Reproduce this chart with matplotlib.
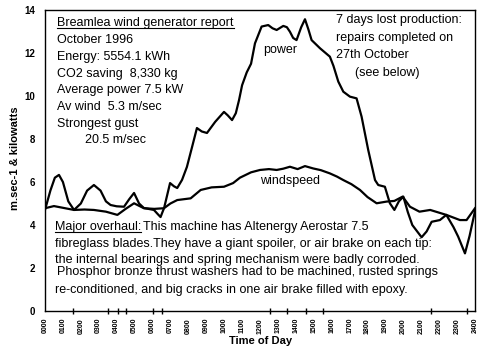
import matplotlib
matplotlib.use("Agg")
import matplotlib.pyplot as plt
from matplotlib.lines import Line2D

# ---------------- data ----------------
power_hours = [0.0, 0.3, 0.55, 0.78, 1.0, 1.3, 1.62, 2.0, 2.35, 2.73, 3.1, 3.4, 3.66, 4.0,
               4.41, 4.7, 4.97, 5.25, 5.52, 6.08, 6.3, 6.45, 6.65, 6.98, 7.2, 7.38, 7.65,
               7.92, 8.2, 8.48, 8.75, 9.04, 9.5, 9.99, 10.2, 10.44, 10.65, 10.83, 11.0,
               11.26, 11.5, 11.72, 12.09, 12.46, 12.7, 12.93, 13.3, 13.5, 13.67, 13.85,
               14.04, 14.3, 14.51, 14.7, 14.88, 15.35, 15.9, 16.1, 16.37, 16.65, 17.02,
               17.39, 17.67, 18.04, 18.42, 18.6, 18.97, 19.25, 19.5, 19.75, 20.0, 20.25,
               20.5, 21.02, 21.3, 21.58, 22.04, 22.4, 22.8, 23.06, 23.44, 23.7, 24.0]
power_kw = [4.70, 5.6, 6.2, 6.33, 6.0, 5.1, 4.70, 5.0, 5.6, 5.86, 5.6, 5.1, 4.93, 4.87,
            4.85, 5.2, 5.49, 5.0, 4.79, 4.70, 4.5, 4.37, 4.8, 5.95, 5.8, 5.72, 6.1,
            6.70, 7.6, 8.51, 8.35, 8.28, 8.8, 9.26, 9.1, 8.88, 9.2, 9.81, 10.5,
            11.1, 11.5, 12.45, 13.23, 13.30, 13.15, 13.07, 13.26, 13.2, 12.99, 12.7,
            12.60, 13.2, 13.57, 13.1, 12.60, 12.22, 11.83, 11.4, 10.67, 10.20, 9.97,
            9.89, 9.04, 7.49, 6.09, 5.86, 5.78, 5.01, 4.70, 5.1, 5.32, 4.6,
            4.0, 3.43, 3.7, 4.15, 4.23, 4.47, 3.9, 3.46, 2.68, 3.5, 4.65]

wind_hours = [0.0, 0.5, 1.0, 1.62, 2.2, 2.73, 3.4, 4.04, 4.5, 4.97, 5.52, 6.1, 6.64, 7.0,
              7.38, 8.13, 8.69, 9.3, 9.99, 10.5, 10.88, 11.5, 12.0, 12.5, 12.93, 13.3,
              13.67, 14.1, 14.51, 14.97, 15.4, 15.9, 16.3, 16.65, 17.1, 17.58, 18.0,
              18.51, 19.07, 19.5, 19.96, 20.37, 20.9, 21.5, 22.4, 23.16, 23.53, 24.0]
wind_ms = [4.78, 4.88, 4.80, 4.70, 4.72, 4.70, 4.62, 4.47, 4.75, 5.01, 4.78, 4.75, 4.78, 5.0,
           5.16, 5.24, 5.63, 5.75, 5.78, 5.95, 6.2, 6.45, 6.56, 6.6, 6.56, 6.62,
           6.71, 6.6, 6.74, 6.63, 6.55, 6.40, 6.25, 6.09, 5.9, 5.63, 5.3,
           5.01, 5.09, 5.12, 5.32, 4.85, 4.62, 4.70, 4.47, 4.23, 4.23, 4.78]

hour_ticks = list(range(25))
hour_labels = ["%02d00" % h for h in hour_ticks]
y_ticks = [0, 2, 4, 6, 8, 10, 12, 14]
x_marks = [1.56, 3.52, 4.07, 4.52, 6.03, 6.53, 12.56, 13.0, 13.5, 14.57, 15.0, 15.5,
           21.54, 23.55, 24.0]
y_marks = [2, 8]

report_lines = ["October 1996", "Energy: 5554.1 kWh", "CO2 saving  8,330 kg",
                "Average power 7.5 kW", "Av wind  5.3 m/sec", "Strongest gust"]
lost_lines = ["7 days lost production:", "repairs completed on", "27th October"]

# ---------------- figure ----------------
W, H = 491, 362
fig = plt.figure(figsize=(W / 100, H / 100), dpi=100)
fig.patch.set_facecolor("white")
FONT = "Liberation Sans"

def fx(x):
    return x / W

def fy(y):
    return 1 - y / H

ax = fig.add_axes([fx(45), fy(311), (475 - 45) / W, (311 - 10) / H])
ax.plot(power_hours, power_kw, color="black", lw=1.6, solid_joinstyle="round")
ax.plot(wind_hours, wind_ms, color="black", lw=1.6, solid_joinstyle="round")
ax.set_xlim(0, 24)
ax.set_ylim(0, 14)
for s in ax.spines.values():
    s.set_linewidth(1.0)
    s.set_color("black")

ax.set_xticks(hour_ticks)
ax.set_xticklabels(hour_labels, rotation=90, fontsize=5, fontweight="bold", family=FONT)
ax.set_yticks(y_ticks)
ax.set_yticklabels([str(v) for v in y_ticks], fontsize=7, fontweight="bold", family=FONT)
ax.tick_params(axis="x", which="major", length=0, pad=5)
ax.tick_params(axis="y", which="major", length=0, pad=7)
ax.set_xticks(x_marks, minor=True)
ax.set_yticks(y_marks, minor=True)
ax.tick_params(axis="x", which="minor", direction="inout", length=4, width=1)
ax.tick_params(axis="y", which="minor", direction="inout", length=7, width=1)

fig.text(fx(261), fy(341), "Time of Day", ha="center", va="center",
         fontsize=8, fontweight="bold", family=FONT)
fig.text(fx(15), fy(158), "m.sec-1 & kilowatts", ha="center", va="center",
         rotation=90, fontsize=8, fontweight="bold", family=FONT)

TS = 9
title = fig.text(fx(57), fy(23), "Breamlea wind generator report", ha="left",
                 va="center", fontsize=TS, family=FONT)
for i, line in enumerate(report_lines):
    fig.text(fx(57), fy(40 + i * 16.8), line, ha="left", va="center", fontsize=TS, family=FONT)
fig.text(fx(85), fy(140), "20.5 m/sec", ha="left", va="center", fontsize=TS, family=FONT)

for i, line in enumerate(lost_lines):
    fig.text(fx(336), fy(20 + i * 17.5), line, ha="left", va="center", fontsize=TS, family=FONT)
fig.text(fx(355), fy(73), "(see below)", ha="left", va="center", fontsize=TS, family=FONT)

fig.text(fx(280), fy(50), "power", ha="center", va="center", fontsize=TS, family=FONT)
fig.text(fx(290), fy(181), "windspeed", ha="center", va="center", fontsize=TS, family=FONT)

major = fig.text(fx(55), fy(227), "Major overhaul:", ha="left", va="center",
                 fontsize=TS, family=FONT)
fig.text(fx(55), fy(244), "fibreglass blades.They have a giant spoiler, or air brake on each tip:",
         ha="left", va="center", fontsize=TS, family=FONT)
fig.text(fx(55), fy(260), "the internal bearings and spring mechanism were badly corroded.",
         ha="left", va="center", fontsize=TS, family=FONT)
fig.text(fx(57), fy(272), "Phosphor bronze thrust washers had to be machined, rusted springs",
         ha="left", va="center", fontsize=TS, family=FONT)
fig.text(fx(55), fy(290), "re-conditioned, and big cracks in one air brake filled with epoxy.",
         ha="left", va="center", fontsize=TS, family=FONT)

fig.canvas.draw()
r = fig.canvas.get_renderer()
for t in (title, major):
    bb = t.get_window_extent(r)
    yline = bb.y0 + 1.5
    fig.add_artist(Line2D([bb.x0 / W, bb.x1 / W], [yline / H, yline / H],
                          color="black", lw=0.8, transform=fig.transFigure))
bb = major.get_window_extent(r)
fig.text((bb.x1 + 2) / W, fy(227), "This machine has Altenergy Aerostar 7.5",
         ha="left", va="center", fontsize=TS, family=FONT)

fig.savefig("out.png", dpi=100, facecolor="white")
